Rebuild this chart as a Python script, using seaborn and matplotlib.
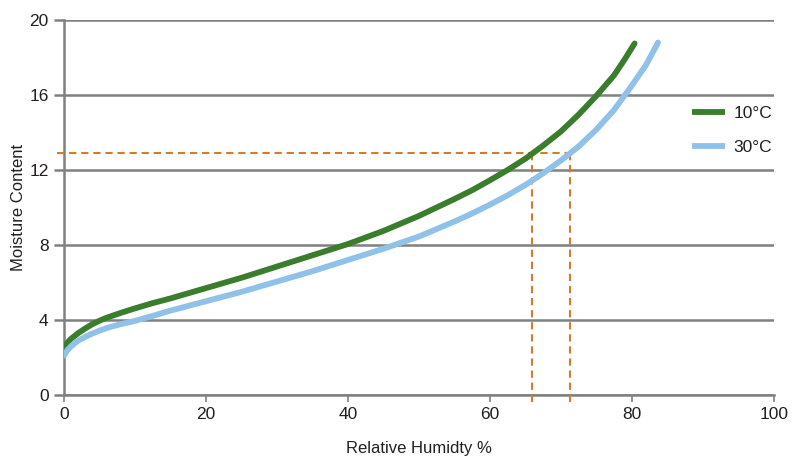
import numpy as np
import pandas as pd
import seaborn as sns
import matplotlib.pyplot as plt

# valores
rh_10 = [0, 0.5, 1, 2, 3, 4, 5, 6, 8, 10, 12.5, 15, 20, 25, 30, 35, 40, 45, 50,
         55, 57.5, 60, 62.5, 65, 67.5, 70, 72.5, 75, 77.5, 79, 80.4]
mc_10 = [2.5, 2.8, 3.0, 3.3, 3.55, 3.78, 3.96, 4.12, 4.38, 4.62, 4.9, 5.15, 5.7,
         6.25, 6.85, 7.45, 8.05, 8.75, 9.55, 10.45, 10.92, 11.45, 12.0, 12.6,
         13.3, 14.05, 14.95, 15.95, 17.05, 17.9, 18.75]
rh_30 = [0, 0.5, 1, 2, 3, 4, 5, 6, 8, 10, 12.5, 15, 20, 25, 30, 35, 40, 45, 50,
         55, 57.5, 60, 62.5, 65, 67.5, 70, 72.5, 75, 77.5, 80, 82, 83.7]
mc_30 = [2.1, 2.4, 2.6, 2.9, 3.1, 3.28, 3.43, 3.57, 3.78, 3.95, 4.22, 4.5, 5.0,
         5.5, 6.05, 6.6, 7.2, 7.8, 8.45, 9.25, 9.68, 10.15, 10.65, 11.2, 11.82,
         12.5, 13.25, 14.15, 15.2, 16.5, 17.6, 18.8]
series = ["10°C", "30°C"]
colores = ["#3a7d2c", "#8fc1e9"]

# lineas de referencia
mc_ref = 12.9
rh_ref = [65.9, 71.3]

y_ticks = [0, 4, 8, 12, 16, 20]
x_ticks = [0, 20, 40, 60, 80, 100]

df = pd.concat([
    pd.DataFrame({"rh": rh_10, "mc": mc_10, "temp": series[0]}),
    pd.DataFrame({"rh": rh_30, "mc": mc_30, "temp": series[1]}),
])

sns.set_style("white")
plt.rcParams["font.family"] = ["Liberation Sans", "DejaVu Sans"]
gris = "#808080"
texto = "#231f20"

fig, ax = plt.subplots(figsize=(7.96, 4.58), dpi=100)
fig.subplots_adjust(left=0.0804, right=0.972, top=0.9563, bottom=0.1376)

naranja = "#d27d2d"
ax.plot([-1, rh_ref[1]], [mc_ref, mc_ref], color=naranja, lw=1.5, ls=(0, (3.5, 2.3)), clip_on=False, zorder=3)
for r in rh_ref:
    ax.plot([r, r], [mc_ref, -0.55], color=naranja, lw=1.5, ls=(0, (3.5, 2.3)), clip_on=False, zorder=3)

sns.lineplot(data=df, x="rh", y="mc", hue="temp", palette=colores, lw=4.2,
             sort=False, ax=ax, zorder=4, solid_capstyle="round", solid_joinstyle="round")

ax.set_xlim(0, 100)
ax.set_ylim(0, 20)
ax.set_xticks(x_ticks)
ax.set_yticks(y_ticks)
ax.yaxis.grid(True, color=gris, lw=1.8)
ax.set_axisbelow(True)
for s in ["top", "right"]:
    ax.spines[s].set_visible(False)
for s in ["left", "bottom"]:
    ax.spines[s].set_color(gris)
    ax.spines[s].set_linewidth(1.8)
ax.tick_params(axis="y", length=7, width=1.8, color=gris, labelsize=12.5, pad=4,
               left=True, labelcolor=texto)
ax.tick_params(axis="x", length=5, width=1.2, color=gris, labelsize=12.5, pad=4,
               bottom=True, labelcolor=texto)

ax.set_xlabel("Relative Humidty %", fontsize=12, color=texto)
ax.set_ylabel("Moisture Content", fontsize=12, color=texto)
ax.xaxis.set_label_coords(0.5, -0.122)
ax.yaxis.set_label_coords(-0.053, 0.5)

leg = ax.legend(loc="upper right", bbox_to_anchor=(1.02, 0.812), frameon=False, fontsize=12.5,
                handlelength=1.9, labelspacing=1.05, handletextpad=0.5, title=None)
for t in leg.get_texts():
    t.set_color(texto)
for h in leg.get_lines():
    h.set_solid_capstyle("butt")
    h.set_linewidth(4.2)

fig.savefig("out.png", dpi=100)
